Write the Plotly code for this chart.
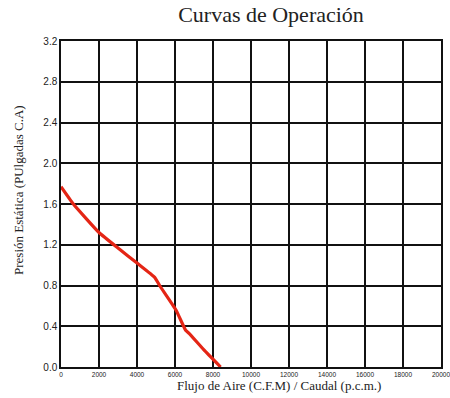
import plotly.graph_objects as go

flow_cfm = [0, 650, 2000, 3050, 4000, 4930, 5190, 6050, 6560, 6740, 7510, 8400]
pressure = [1.77, 1.60, 1.32, 1.16, 1.02, 0.88, 0.80, 0.56, 0.36, 0.33, 0.17, 0.0]

x_ticks = [0, 2000, 4000, 6000, 8000, 10000, 12000, 14000, 16000, 18000, 20000]
y_ticks = [0.0, 0.4, 0.8, 1.2, 1.6, 2.0, 2.4, 2.8, 3.2]
y_labels = ["0.0", "0.4", "0.8", "1.2", "1.6", "2.0", "2.4", "2.8", "3.2"]

fig = go.Figure()
fig.add_trace(go.Scatter(x=flow_cfm, y=pressure, mode="lines",
                         line=dict(color="#e42515", width=3.2, shape="spline", smoothing=0.4),
                         showlegend=False, hoverinfo="skip"))

fig.update_layout(
    width=450, height=398,
    margin=dict(l=61, r=9, t=41, b=31, autoexpand=False),
    paper_bgcolor="white", plot_bgcolor="white",
    title=dict(text="Curvas de Operación", x=271/450, xanchor="center", y=1 - 14/398, yanchor="middle",
               font=dict(family="Liberation Serif", size=22, color="#222")),
    xaxis=dict(range=[0, 20000], tickvals=x_ticks, ticktext=[str(v) for v in x_ticks],
               showgrid=True, gridcolor="#111", gridwidth=1.5, zeroline=False,
               showline=True, linecolor="#111", linewidth=1.5, mirror=True, ticks="",
               automargin=False, ticklabeloverflow="allow", ticklabelstandoff=0,
               tickfont=dict(family="Liberation Sans", size=6.5, color="#222")),
    yaxis=dict(range=[0, 3.2], tickvals=y_ticks, ticktext=y_labels,
               showgrid=True, gridcolor="#111", gridwidth=1.5, zeroline=False,
               showline=True, linecolor="#111", linewidth=1.5, mirror=True, ticks="",
               automargin=False,
               tickfont=dict(family="Liberation Sans", size=10, color="#222")),
    annotations=[
        dict(text="Flujo de Aire (C.F.M) / Caudal (p.c.m.)", xref="paper", yref="paper",
             x=(279 - 61) / 380, y=-(386 - 367) / 326, xanchor="center", yanchor="middle",
             showarrow=False, font=dict(family="Liberation Serif", size=13, color="#222")),
        dict(text="Presión Estática (PUlgadas C.A)", xref="paper", yref="paper",
             x=(18 - 61) / 380, y=(367 - 190) / 326, xanchor="center", yanchor="middle",
             textangle=-90, showarrow=False,
             font=dict(family="Liberation Serif", size=13, color="#222")),
    ],
)

fig.write_html("out.html")
